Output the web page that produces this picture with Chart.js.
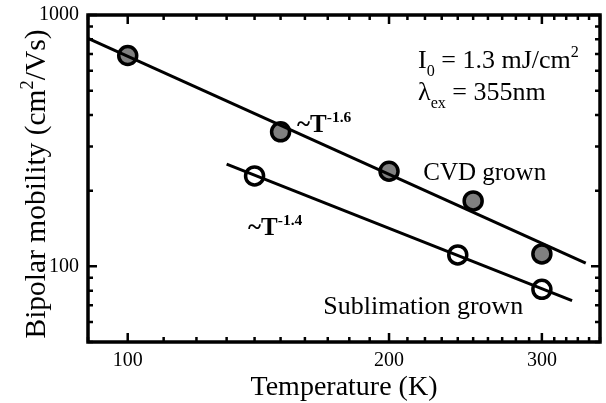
<!DOCTYPE html>
<html>
<head>
<meta charset="utf-8">
<script src="https://cdn.jsdelivr.net/npm/chart.js@4/dist/chart.umd.min.js"></script>
<style>
  html, body { margin: 0; padding: 0; background: #fff; }
  #wrap { width: 606px; height: 403px; }
</style>
</head>
<body>
<div id="wrap"><canvas id="mobility"></canvas></div>
<script>
var cvdT = [100, 150, 200, 250, 300];
var cvdMu = [690, 343, 239, 182, 112];
var subT = [140, 240, 300];
var subMu = [229, 111, 81];

// power law fits, end points only
var cvdFitT = [90, 337];
var cvdFitMu = [808, 103];
var subFitT = [130, 325];
var subFitMu = [255, 73];

// axis ticks
var xTicks = [90, 100, 110, 120, 130, 140, 150, 160, 170, 180, 190, 200, 210, 220, 230, 240, 250, 260, 270, 280, 290, 300, 310, 320, 330, 340, 350];
var xTickLabels = [100, 200, 300];
var yTicks = [50, 60, 70, 80, 90, 100, 200, 300, 400, 500, 600, 700, 800, 900, 1000];
var yTickLabels = [100, 1000];

var FONT = '"Liberation Serif", "Times New Roman", serif';

function toXY(xs, ys) {
    return xs.map(function (x, i) { return { x: x, y: ys[i] }; });
}

// draw a list of text runs, with sub/superscripts
function runsWidth(ctx, runs, size, bold) {
    var w = 0;
    runs.forEach(function (r) {
        var s = (r.sub || r.sup) ? size * 0.62 : size;
        ctx.font = (bold ? 'bold ' : '') + s + 'px ' + FONT;
        w += ctx.measureText(r.t).width;
    });
    return w;
}
function drawRuns(ctx, x, y, runs, size, bold) {
    var cx = x;
    runs.forEach(function (r) {
        var s = (r.sub || r.sup) ? size * 0.62 : size;
        ctx.font = (bold ? 'bold ' : '') + s + 'px ' + FONT;
        var dy = r.sup ? -size * 0.42 : (r.sub ? size * 0.32 : 0);
        ctx.fillText(r.t, cx, y + dy);
        cx += ctx.measureText(r.t).width;
    });
}

// text placed in data coordinates (T, mobility) = left end of baseline
var notes = [
    { T: 216, mu: 615, size: 26, runs: [{ t: 'I' }, { t: '0', sub: true }, { t: ' = 1.3 mJ/cm' }, { t: '2', sup: true }] },
    { T: 216, mu: 460, size: 26, runs: [{ t: 'λ' }, { t: 'ex', sub: true }, { t: ' = 355nm' }] },
    { T: 219, mu: 220, size: 25, runs: [{ t: 'CVD grown' }] },
    { T: 168, mu: 64.6, size: 26, runs: [{ t: 'Sublimation grown' }] },
    { T: 156.7, mu: 342, size: 25, bold: true, runs: [{ t: '~T' }, { t: '-1.6', sup: true }] },
    { T: 137.6, mu: 133, size: 25, bold: true, runs: [{ t: '~T' }, { t: '-1.4', sup: true }] }
];

var framePlugin = {
    id: 'frame',
    afterDatasetsDraw: function (chart) {
        var ctx = chart.ctx, a = chart.chartArea;
        var xs = chart.scales.x, ys = chart.scales.y;
        ctx.save();
        ctx.strokeStyle = '#000';
        ctx.lineWidth = 2.5;
        ctx.lineCap = 'butt';
        // inward ticks on all four sides
        xTicks.forEach(function (v) {
            var px = xs.getPixelForValue(v);
            var len = xTickLabels.indexOf(v) >= 0 ? 9 : 5;
            ctx.beginPath();
            ctx.moveTo(px, a.bottom); ctx.lineTo(px, a.bottom - len);
            ctx.moveTo(px, a.top); ctx.lineTo(px, a.top + len);
            ctx.stroke();
        });
        yTicks.forEach(function (v) {
            var py = ys.getPixelForValue(v);
            var len = yTickLabels.indexOf(v) >= 0 ? 9 : 5;
            ctx.beginPath();
            ctx.moveTo(a.left, py); ctx.lineTo(a.left + len, py);
            ctx.moveTo(a.right, py); ctx.lineTo(a.right - len, py);
            ctx.stroke();
        });
        ctx.lineWidth = 3.5;
        ctx.strokeRect(a.left, a.top, a.right - a.left, a.bottom - a.top);

        // annotations
        ctx.fillStyle = '#000';
        ctx.textAlign = 'left';
        ctx.textBaseline = 'alphabetic';
        notes.forEach(function (n) {
            drawRuns(ctx, xs.getPixelForValue(n.T), ys.getPixelForValue(n.mu), n.runs, n.size, n.bold);
        });

        // axis titles
        var xt = [{ t: 'Temperature (K)' }];
        var w = runsWidth(ctx, xt, 28, false);
        drawRuns(ctx, (a.left + a.right) / 2 - w / 2, 395, xt, 28, false);

        var yt = [{ t: 'Bipolar mobility (cm' }, { t: '2', sup: true }, { t: '/Vs)' }];
        ctx.translate(35, 184);
        ctx.rotate(-Math.PI / 2);
        w = runsWidth(ctx, yt, 29.5, false);
        drawRuns(ctx, -w / 2, 10, yt, 29.5, false);
        ctx.restore();
    }
};

new Chart(document.getElementById('mobility'), {
    type: 'scatter',
    data: {
        datasets: [
            {
                label: 'CVD fit',
                data: toXY(cvdFitT, cvdFitMu),
                showLine: true,
                borderColor: '#000',
                borderWidth: 3,
                pointRadius: 0
            },
            {
                label: 'Sublimation fit',
                data: toXY(subFitT, subFitMu),
                showLine: true,
                borderColor: '#000',
                borderWidth: 3,
                pointRadius: 0
            },
            {
                label: 'CVD grown',
                data: toXY(cvdT, cvdMu),
                pointRadius: 9,
                pointBorderWidth: 3.5,
                pointBackgroundColor: '#808080',
                pointBorderColor: '#000'
            },
            {
                label: 'Sublimation grown',
                data: toXY(subT, subMu),
                pointRadius: 9,
                pointBorderWidth: 3.5,
                pointBackgroundColor: '#fff',
                pointBorderColor: '#000'
            }
        ]
    },
    options: {
        responsive: true,
        maintainAspectRatio: false,
        animation: false,
        layout: { autoPadding: false, padding: { left: 0, right: 6, top: 15, bottom: 0 } },
        plugins: {
            legend: { display: false },
            tooltip: { enabled: false }
        },
        scales: {
            x: {
                type: 'logarithmic',
                min: 90,
                max: 350,
                grid: { display: false, drawTicks: false },
                border: { display: false },
                afterBuildTicks: function (scale) {
                    scale.ticks = xTicks.map(function (v) { return { value: v }; });
                },
                afterFit: function (scale) {
                    scale.height = 61;
                    scale.paddingLeft = 0;
                    scale.paddingRight = 0;
                },
                ticks: {
                    autoSkip: false,
                    maxRotation: 0,
                    padding: 7,
                    color: '#000',
                    font: { family: FONT, size: 20 },
                    callback: function (v) { return xTickLabels.indexOf(v) >= 0 ? String(v) : ''; }
                }
            },
            y: {
                type: 'logarithmic',
                min: 50,
                max: 1000,
                grid: { display: false, drawTicks: false },
                border: { display: false },
                afterBuildTicks: function (scale) {
                    scale.ticks = yTicks.map(function (v) { return { value: v }; });
                },
                afterFit: function (scale) {
                    scale.width = 88;
                    scale.paddingTop = 0;
                    scale.paddingBottom = 0;
                },
                ticks: {
                    autoSkip: false,
                    padding: 9,
                    color: '#000',
                    font: { family: FONT, size: 20 },
                    callback: function (v) { return yTickLabels.indexOf(v) >= 0 ? String(v) : ''; }
                }
            }
        }
    },
    plugins: [framePlugin]
});
</script>
</body>
</html>
